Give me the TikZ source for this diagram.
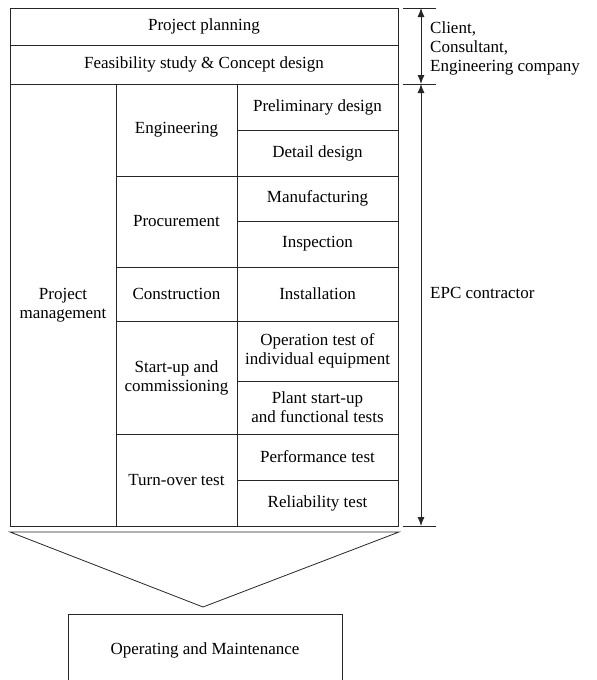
\documentclass[tikz,border=0pt]{standalone}
\usepackage{fontspec}
\setmainfont{Liberation Serif}
\usetikzlibrary{arrows.meta,calc}
\tikzset{
	cell/.style 2 args={draw,black!85,text=black,line width=0.8pt,inner sep=0pt,outer sep=0pt,align=center,minimum width=#1pt,minimum height=#2pt,font=\fontsize{17}{19}\selectfont},
	note/.style={anchor=west,align=left,inner sep=0pt,font=\fontsize{17}{19}\selectfont},
	tick/.style={black!85,line width=0.8pt},
	span/.style={black!85,line width=0.9pt,{Latex[length=9pt,width=7pt]}-{Latex[length=9pt,width=7pt]}}
}
\begin{document}
\begin{tikzpicture}[x=1pt,y=-1pt]
		\useasboundingbox (0,0) rectangle (597,680);
		\clip (0,0) rectangle (597,680);
		\node[cell={388}{37}](plan)at(204,26.5) {Project planning};
		\node[cell={388}{39}](feas)at(204,64.5) {Feasibility study \& Concept design};
		\node[cell={106}{442}](pm)at(63,305) {Project\\management};
		
		\node[cell={121}{92}](eng)at(176.5,130) {Engineering};
		\node[cell={121}{91}](proc)at(176.5,221.5) {Procurement};
		\node[cell={121}{54}](cons)at(176.5,294) {Construction};
		\node[cell={121}{113}](start)at(176.5,377.5) {Start-up and\\commissioning};
		\node[cell={121}{92}](turn)at(176.5,480) {Turn-over test};
		
		\node[cell={161}{46}](pre)at(317.5,107) {Preliminary design};
		\node[cell={161}{46}](det)at(317.5,153) {Detail design};
		\node[cell={161}{45}](man)at(317.5,198.5) {Manufacturing};
		\node[cell={161}{46}](ins)at(317.5,244) {Inspection};
		\node[cell={161}{54}](inst)at(317.5,294) {Installation};
		\node[cell={161}{60}](op)at(317.5,351) {Operation test of\\individual equipment};
		\node[cell={161}{53}](plant)at(317.5,407.5) {Plant start-up\\and functional tests};
		\node[cell={161}{46}](perf)at(317.5,457) {Performance test};
		\node[cell={161}{46}](rel)at(317.5,503) {Reliability test};
		
		\node[cell={274}{72}](om)at(205,650) {Operating and Maintenance};
		
		\coordinate (t0)at(403,8);
		\coordinate (t1)at(403,84);
		\coordinate (t2)at(403,526);
		\draw[tick](t0) -- +(33,0);
		\draw[tick](t1) -- +(33,0);
		\draw[tick](t2) -- +(33,0);
		\draw[span]($(t0)+(18,0)$) -- ($(t1)+(18,0)$);
		\draw[span]($(t1)+(18,0)$) -- ($(t2)+(18,0)$);
		\node[note](own)at(430,48) {Client,\\Consultant,\\Engineering company};
		\node[note](epc)at(430,293) {EPC contractor};
		
		\coordinate (cl)at(10,532);
		\coordinate (cr)at(399,532);
		\coordinate (tip)at(203,607);
		\draw[tick](cl) -- (cr) -- (tip) -- cycle;
	\end{tikzpicture}
\end{document}
